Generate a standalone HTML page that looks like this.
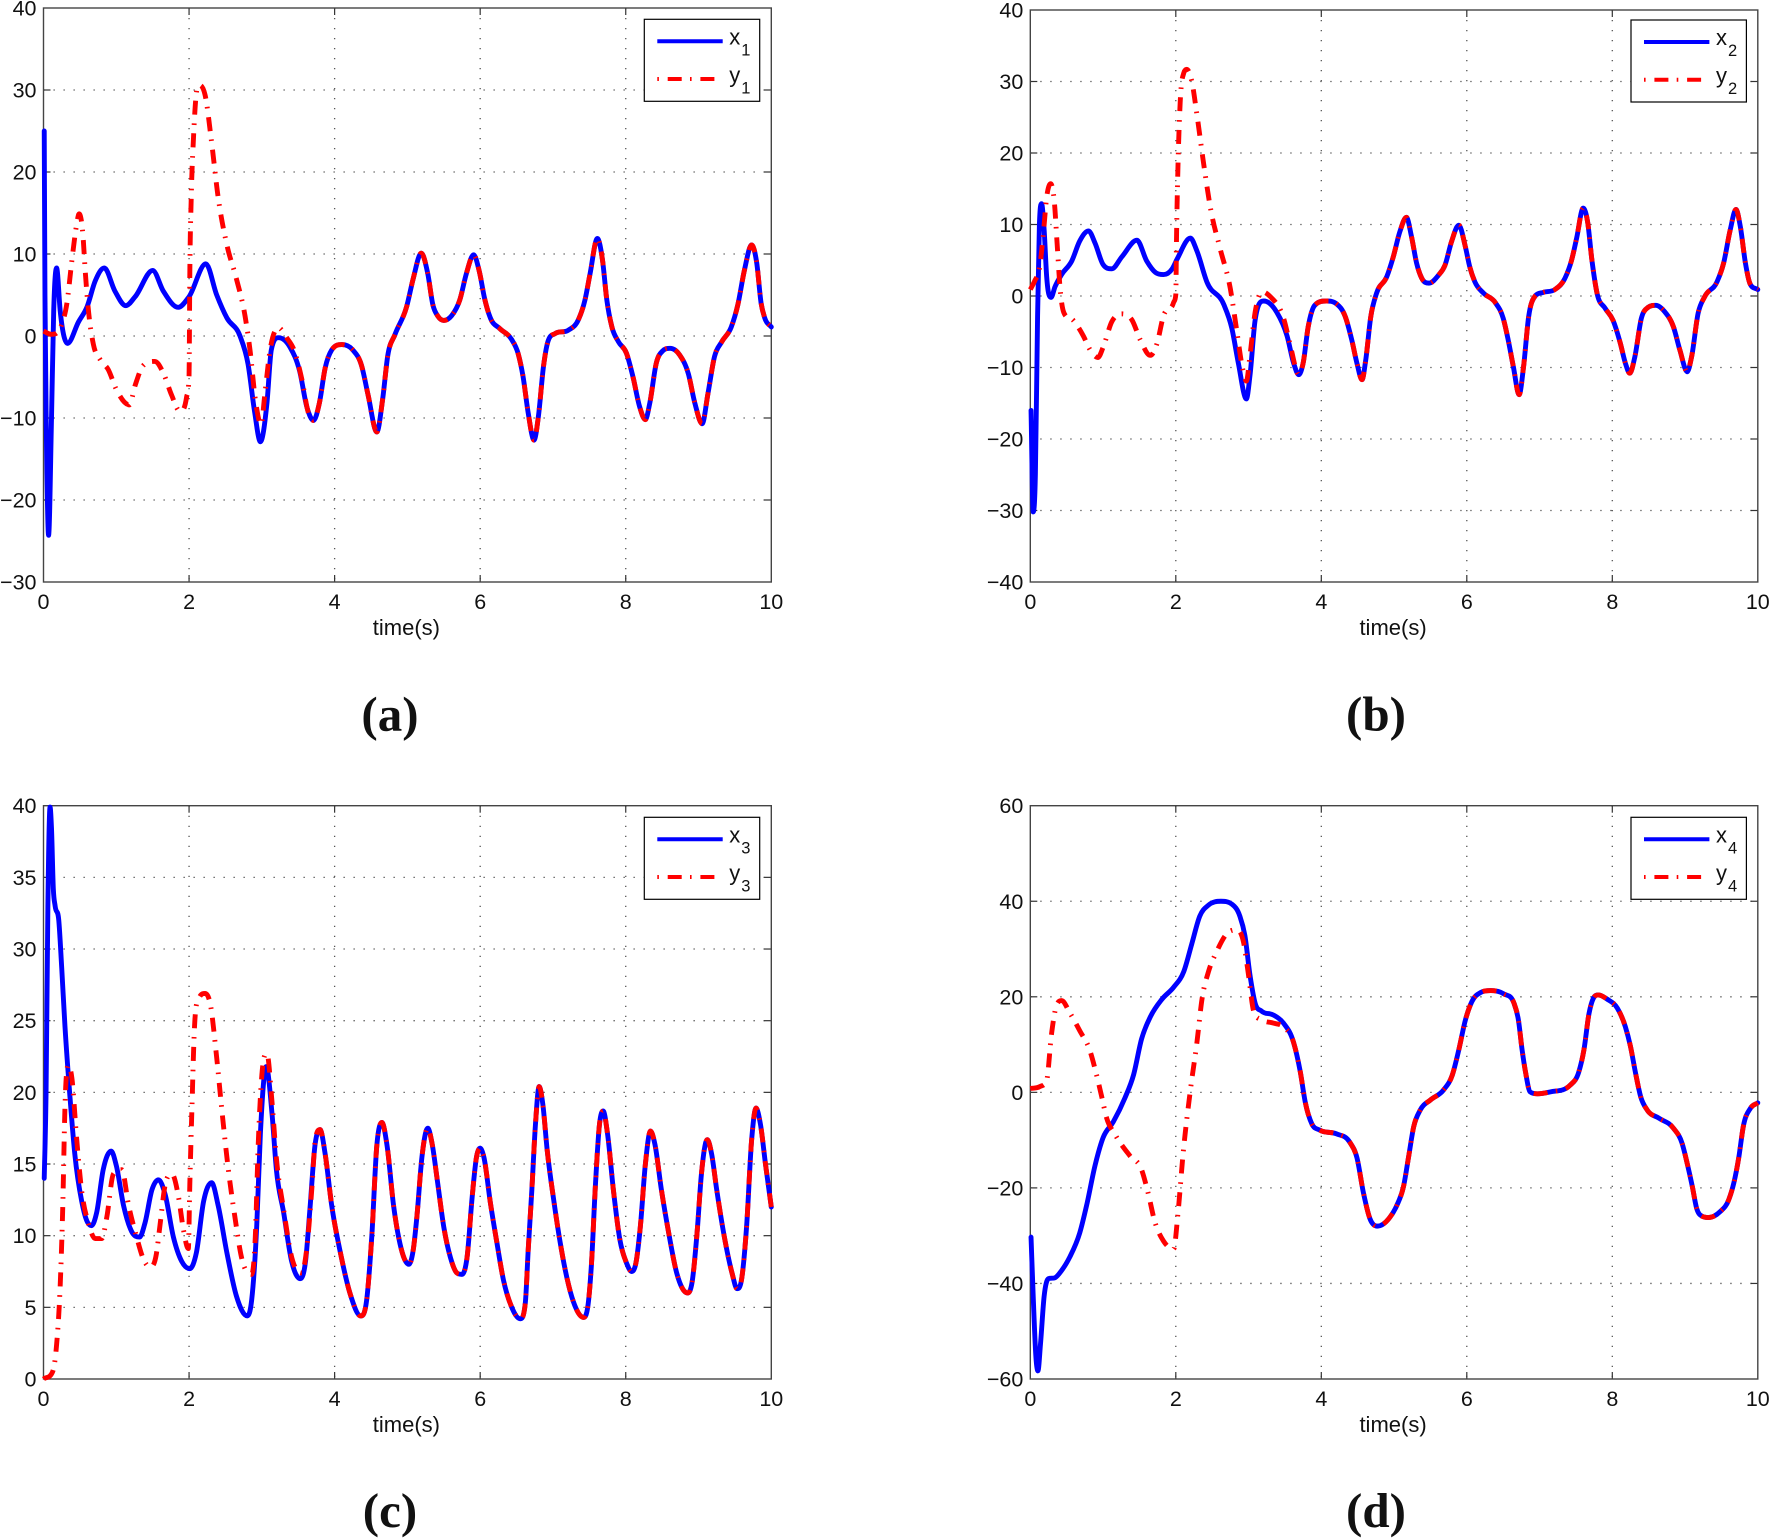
<!DOCTYPE html>
<html lang="en">
<head>
<meta charset="utf-8">
<title>Synchronization of x and y states</title>
<style>
html,body{margin:0;padding:0;background:#fff;}
svg{display:block;}
text{font-family:"Liberation Sans",Arial,sans-serif;fill:#111;}
.cap{font-family:"Liberation Serif","Times New Roman",serif;font-weight:bold;font-size:49px;text-anchor:middle;}
.lg{font-size:22px;}
.sub{font-size:16.5px;}
</style>
</head>
<body>
<svg id="fig" xmlns="http://www.w3.org/2000/svg" width="1769" height="1538" viewBox="0 0 1769 1538">
<g id="plots"></g>

<g transform="translate(644.3,19.3)">
<rect x="0" y="0" width="115.4" height="82" fill="#fff" stroke="#000" stroke-width="1.2"/>
<line x1="13" x2="78.4" y1="22" y2="22" stroke="#0000ff" stroke-width="4"/>
<line x1="13" x2="78.4" y1="59.7" y2="59.7" stroke="#ff0000" stroke-width="4" stroke-dasharray="1.6 8.8 14 8.3"/>
<text class="lg" x="85" y="25">x</text><text class="sub" x="97" y="36">1</text>
<text class="lg" x="85" y="63">y</text><text class="sub" x="97" y="74">1</text>
</g>
<g transform="translate(1631,20)">
<rect x="0" y="0" width="115.4" height="82" fill="#fff" stroke="#000" stroke-width="1.2"/>
<line x1="13" x2="78.4" y1="22" y2="22" stroke="#0000ff" stroke-width="4"/>
<line x1="13" x2="78.4" y1="59.7" y2="59.7" stroke="#ff0000" stroke-width="4" stroke-dasharray="1.6 8.8 14 8.3"/>
<text class="lg" x="85" y="25">x</text><text class="sub" x="97" y="36">2</text>
<text class="lg" x="85" y="63">y</text><text class="sub" x="97" y="74">2</text>
</g>
<g transform="translate(644.3,817.3)">
<rect x="0" y="0" width="115.4" height="82" fill="#fff" stroke="#000" stroke-width="1.2"/>
<line x1="13" x2="78.4" y1="22" y2="22" stroke="#0000ff" stroke-width="4"/>
<line x1="13" x2="78.4" y1="59.7" y2="59.7" stroke="#ff0000" stroke-width="4" stroke-dasharray="1.6 8.8 14 8.3"/>
<text class="lg" x="85" y="25">x</text><text class="sub" x="97" y="36">3</text>
<text class="lg" x="85" y="63">y</text><text class="sub" x="97" y="74">3</text>
</g>
<g transform="translate(1631,817.3)">
<rect x="0" y="0" width="115.4" height="82" fill="#fff" stroke="#000" stroke-width="1.2"/>
<line x1="13" x2="78.4" y1="22" y2="22" stroke="#0000ff" stroke-width="4"/>
<line x1="13" x2="78.4" y1="59.7" y2="59.7" stroke="#ff0000" stroke-width="4" stroke-dasharray="1.6 8.8 14 8.3"/>
<text class="lg" x="85" y="25">x</text><text class="sub" x="97" y="36">4</text>
<text class="lg" x="85" y="63">y</text><text class="sub" x="97" y="74">4</text>
</g>

<text class="cap" x="390" y="730.5">(a)</text>
<text class="cap" x="1376" y="730.5">(b)</text>
<text class="cap" x="390" y="1527">(c)</text>
<text class="cap" x="1376" y="1527">(d)</text>
</svg>

<script>
const xTicks = [0, 2, 4, 6, 8, 10];
const yTicksA = [40, 30, 20, 10, 0, -10, -20, -30];
const yTicksB = [40, 30, 20, 10, 0, -10, -20, -30, -40];
const yTicksC = [40, 35, 30, 25, 20, 15, 10, 5, 0];
const yTicksD = [60, 40, 20, 0, -20, -40, -60];
const xAxisTitle = 'time(s)';

/* Panel a */
const x1EarlyTime = [0.01,0.02,0.04,0.07,0.11,0.14,0.18,0.23,0.33,0.48,0.6,0.71,0.835,0.98,1.13,1.26,1.5,1.645,1.85,2.0,2.23,2.38,2.52,2.7,2.81,2.9,2.98,3.07,3.13,3.23,3.39,3.52,3.62];
const x1EarlyValues = [25,5,-12,-24.3,-10,3,8.3,3,-0.9,1.7,3.6,6.7,8.3,5.5,3.7,4.8,8,5.5,3.5,4.8,8.8,5,2.2,0,-3.4,-9.2,-12.9,-8.2,-1.7,-0.2,-1.4,-4.3,-8.7];
const y1EarlyTime = [0,0.11,0.25,0.32,0.39,0.45,0.49,0.54,0.575,0.62,0.685,0.78,0.89,1.0,1.18,1.26,1.37,1.53,1.65,1.76,1.875,1.965,2.0,2.01,2.03,2.06,2.1,2.14,2.22,2.31,2.4,2.52,2.65,2.77,2.84,2.91,2.99,3.04,3.11,3.23,3.34,3.45,3.55,3.64];
const y1EarlyValues = [0.6,0.2,1.4,3.9,9.2,13.3,14.9,12.5,7.7,2.9,-1,-2.9,-4.1,-6.5,-8.4,-6,-3.6,-3.1,-4.6,-7.2,-9.2,-7.5,-4.8,7.2,16.9,24,29.6,30.6,29.4,23.6,16.9,11.1,7,2.4,-1.9,-7.7,-10.8,-7.2,-1.9,1,-0.2,-1.9,-5.3,-9.4];
const shared1Time = [3.71,3.79,3.87,3.96,4.1,4.25,4.37,4.46,4.58,4.66,4.73,4.83,4.99,5.08,5.19,5.28,5.35,5.42,5.5,5.61,5.72,5.81,5.91,5.99,6.06,6.14,6.27,6.43,6.52,6.59,6.66,6.74,6.8,6.87,6.93,7.03,7.21,7.35,7.44,7.51,7.61,7.68,7.74,7.81,7.9,8.01,8.1,8.19,8.27,8.33,8.42,8.51,8.61,8.74,8.86,8.95,9.05,9.13,9.22,9.32,9.45,9.54,9.63,9.73,9.8,9.86,9.91,10];
const shared1Values = [-10.3,-8.2,-3.9,-1.7,-1.05,-1.7,-3.6,-7.2,-11.7,-7.7,-2.4,0.2,3.6,7,10.1,7.6,3.8,2.4,1.9,2.5,4.4,7.6,9.9,7.8,4.6,2.2,0.9,-0.4,-2.1,-5,-9.4,-12.7,-9.8,-3.7,-0.7,0.3,0.7,2,4.4,7.6,11.9,9.3,4.4,1.1,-0.7,-2.1,-5,-8.6,-10.2,-8.2,-3.3,-1.8,-1.5,-2.3,-4.6,-8.2,-10.7,-7,-2.5,-0.7,1.1,3.8,8,11.1,8.9,4,2.2,1.1];

/* Panel b */
const x2EarlyTime = [0.01,0.04,0.07,0.1,0.125,0.155,0.19,0.225,0.285,0.34,0.43,0.57,0.68,0.8,0.89,1.0,1.12,1.26,1.465,1.6,1.72,1.83,1.95,2.02,2.2,2.29,2.43,2.66,2.77,2.86,2.97,3.02,3.09,3.21,3.39,3.53,3.62];
const x2EarlyValues = [-16,-30.2,-24.9,-2.8,9.9,12.9,9.3,2.7,-0.2,1.3,3,4.9,7.7,9.1,7.4,4.4,3.8,5.5,7.8,4.9,3.3,3,3.8,5.2,8.1,6.3,1.9,-1.2,-4.5,-9.4,-14.4,-11.1,-3.4,-0.7,-2.3,-5.6,-9.4];
const y2EarlyTime = [0,0.065,0.125,0.18,0.225,0.28,0.33,0.37,0.41,0.46,0.59,0.73,0.82,0.93,1.0,1.12,1.26,1.4,1.51,1.65,1.74,1.83,1.97,2.0,2.01,2.03,2.06,2.11,2.15,2.22,2.29,2.38,2.48,2.61,2.75,2.84,2.91,2.97,3.02,3.09,3.19,3.3,3.49,3.58];
const y2EarlyValues = [0.9,2.2,3.8,8.8,13.8,15.7,13.2,7.1,1,-2.3,-3.4,-5.6,-7.5,-8.6,-7.2,-3.6,-2.5,-3.4,-6.1,-8.3,-6.7,-2.8,-0.9,0.2,8.2,18.2,27,31.2,31.7,30,25.4,18.7,12.1,6.6,1,-5,-9.7,-11.9,-8.3,-2.3,0.6,-0.1,-3.4,-7.2];
const shared2Time = [3.69,3.75,3.82,3.91,4.07,4.21,4.33,4.42,4.49,4.56,4.61,4.68,4.76,4.9,4.99,5.08,5.17,5.24,5.31,5.38,5.48,5.61,5.7,5.79,5.89,5.98,6.04,6.11,6.23,6.39,6.5,6.57,6.64,6.72,6.78,6.85,6.94,7.05,7.21,7.35,7.44,7.51,7.6,7.66,7.72,7.79,7.9,8.01,8.11,8.18,8.24,8.31,8.4,8.49,8.6,8.72,8.84,8.93,9.03,9.09,9.18,9.27,9.44,9.53,9.62,9.7,9.76,9.83,9.89,10];
const shared2Values = [-11,-9.4,-4.3,-1.3,-0.7,-1.1,-2.9,-6.2,-9.4,-11.7,-9,-2.9,0.4,2.7,5.5,9,11,8.3,4.6,2.5,1.8,2.9,4.3,7.6,9.9,6.9,4.1,2,0.4,-0.9,-3.1,-6.2,-9.9,-13.8,-9.9,-2.9,0,0.5,0.9,2.5,5,8.1,12.3,10.4,5,0.4,-1.7,-3.4,-6.6,-9.4,-10.8,-8.5,-3.1,-1.6,-1.3,-2.2,-4.3,-7.6,-10.6,-8.5,-2.4,-0.1,2,4.6,9.2,12.1,9.7,4.6,1.8,0.9];

/* Panel c */
const x3EarlyTime = [0.01,0.035,0.06,0.09,0.11,0.135,0.16,0.21,0.25,0.295,0.365,0.43,0.525,0.59,0.66,0.73,0.82,0.93,1.0,1.1,1.21,1.32,1.395,1.49,1.58,1.67,1.785,1.9,2.01,2.1,2.2,2.31,2.4,2.52,2.65,2.8,2.86,2.93,2.98,3.06,3.14,3.2,3.3,3.41,3.53,3.6,3.66,3.73];
const x3EarlyValues = [14,19.9,32.9,39.9,38.4,34.2,33,32,28.7,24.6,19.6,15.7,12.4,11.1,10.7,11.6,14.6,15.9,14.9,12.1,10.3,9.9,10.9,13.2,13.9,12.9,9.9,8.2,7.7,8.8,12.4,13.7,12.1,8.8,5.8,4.4,5.5,10.7,17.1,21.8,18.5,14.6,11.6,8.2,7,8.2,11.8,16.3];
const y3EarlyTime = [0,0.125,0.18,0.23,0.265,0.295,0.34,0.39,0.455,0.525,0.615,0.71,0.8,0.87,0.96,1.075,1.17,1.28,1.37,1.465,1.55,1.6,1.67,1.765,1.855,1.92,1.99,2.01,2.04,2.07,2.13,2.22,2.29,2.38,2.45,2.54,2.63,2.72,2.86,2.91,2.95,3.0,3.07,3.14,3.2,3.3,3.41,3.55,3.61,3.69,3.73];
const y3EarlyValues = [0,0.5,2.4,6.6,12.1,19,21.9,21,16.8,13.1,10.9,9.8,9.8,11.3,14.3,14.6,12.1,9.9,8.4,7.8,8.7,10.7,13.5,14.3,12.7,10.5,9.1,13.5,19,24,26.5,26.9,26.2,22.4,18.8,14.6,11.3,8.5,7.3,9.9,16.3,21.2,22.7,19.3,15.4,11.8,8.5,7.4,8.8,13.5,16.5];
const shared3Time = [3.8,3.87,3.96,4.08,4.21,4.36,4.44,4.51,4.58,4.65,4.72,4.81,4.9,5.02,5.08,5.13,5.2,5.28,5.34,5.41,5.5,5.59,5.68,5.75,5.82,5.89,5.95,6.0,6.05,6.14,6.23,6.32,6.43,6.55,6.62,6.66,6.71,6.76,6.81,6.86,6.92,7.01,7.1,7.19,7.28,7.42,7.49,7.53,7.58,7.64,7.69,7.75,7.83,7.92,8.01,8.08,8.14,8.2,8.27,8.34,8.4,8.49,8.59,8.7,8.85,8.91,8.98,9.04,9.12,9.18,9.25,9.37,9.46,9.53,9.59,9.66,9.73,9.79,9.85,9.92,10];
const shared3Values = [17.4,15.7,12.1,8.8,6,4.4,5.5,9.9,16.3,17.9,16.3,12.1,9.4,8,9,11.3,15.5,17.5,16.4,13.9,10.6,8.5,7.4,7.3,8.5,12.7,15.5,16.1,15.5,12.3,9.5,6.9,5.05,4.2,5.3,9,13.2,17.8,20.4,19.2,16,12.5,9.5,7.1,5.4,4.3,5.5,8.1,13.2,17.8,18.7,17.1,13.2,9.7,8.1,7.5,8.1,10.6,15,17.3,16.4,13.2,10.2,7.4,6,6.7,10.2,14.3,16.7,15.7,13.2,9.5,7.4,6.3,6.9,10.6,16.7,18.9,17.8,15,12];

/* Panel d */
const x4EarlyTime = [0.01,0.04,0.08,0.105,0.14,0.19,0.25,0.34,0.43,0.545,0.68,0.775,0.89,1.0,1.14,1.3,1.42,1.53,1.65,1.81,1.97,2.11,2.22,2.33,2.45,2.62,2.77,2.88,2.95,3.02,3.09,3.18,3.34,3.48];
const x4EarlyValues = [-30.3,-42.7,-56,-58.3,-52.7,-42.7,-39,-38.8,-37.3,-34.4,-29.4,-23.6,-15.3,-9.5,-6.2,-1.2,3.7,11.2,15.8,19.5,22,25.3,31.1,36.9,39.2,40,39.4,36.9,32.8,24.5,18.7,17,16.2,14.5];
const y4EarlyTime = [0,0.13,0.225,0.29,0.34,0.43,0.545,0.68,0.82,0.91,0.98,1.05,1.16,1.37,1.53,1.62,1.71,1.83,1.97,2.03,2.1,2.2,2.29,2.36,2.45,2.56,2.7,2.84,2.93,3.0,3.07,3.18,3.34,3.48];
const y4EarlyValues = [0.8,1.2,2.5,12,17,19.2,16.6,12.9,8.7,3.7,-0.8,-5.4,-8.7,-13.3,-16.2,-21.1,-27,-31.1,-32.8,-25.3,-12.9,0.4,10.4,19.5,25.3,29.4,33.2,34,31.5,24.5,17,15.2,14.5,13.7];
const shared4Time = [3.62,3.71,3.78,3.87,3.98,4.21,4.39,4.49,4.58,4.67,4.77,4.93,5.04,5.13,5.2,5.27,5.36,5.5,5.68,5.8,5.89,5.98,6.07,6.19,6.33,6.51,6.65,6.71,6.76,6.81,6.87,6.97,7.15,7.42,7.54,7.61,7.68,7.74,7.81,7.93,8.07,8.18,8.25,8.32,8.39,8.48,8.64,8.84,8.96,9.03,9.1,9.16,9.23,9.32,9.48,9.6,9.67,9.74,9.8,9.9,10];
const shared4Values = [10.4,4.4,-2.1,-6.6,-7.9,-8.7,-10.4,-13.7,-21.1,-26.5,-28,-26.4,-23.6,-19.7,-13.5,-7.2,-3.7,-1.6,0.5,3.6,8.9,15.1,19,20.9,21.3,20.6,18.6,15.1,8.9,4,0.1,-0.3,0.1,1.5,4.3,8.9,16.5,19.7,20.4,19.5,17.6,13.7,9.6,4,-0.9,-3.7,-5.4,-7.5,-10.7,-14.9,-19.7,-24.3,-25.9,-26.2,-25,-22.5,-19,-13.5,-7.2,-3.3,-2.2];

const SVGNS = 'http://www.w3.org/2000/svg';
const plotsRoot = document.getElementById('plots');

function mk(tag, attrs, parent) {
  const el = document.createElementNS(SVGNS, tag);
  for (const k in attrs) el.setAttribute(k, attrs[k]);
  parent.appendChild(el);
  return el;
}

/* smooth cubic through the points, in pixel space: parabolic tangents, limited to avoid overshoot */
function smoothPath(px, py) {
  const n = px.length;
  const h = [], d = [], m = new Array(n).fill(0);
  for (let i = 0; i < n - 1; i++) {
    h[i] = px[i + 1] - px[i];
    d[i] = (py[i + 1] - py[i]) / h[i];
  }
  m[0] = d[0];
  m[n - 1] = d[n - 2];
  for (let i = 1; i < n - 1; i++) {
    if (d[i - 1] * d[i] > 0) {
      const lim = 3 * Math.min(Math.abs(d[i - 1]), Math.abs(d[i]));
      const para = (h[i - 1] * d[i] + h[i] * d[i - 1]) / (h[i - 1] + h[i]);
      m[i] = Math.sign(para) * Math.min(Math.abs(para), lim);
    }
  }
  let s = 'M' + px[0].toFixed(2) + ' ' + py[0].toFixed(2);
  for (let i = 0; i < n - 1; i++) {
    const c = h[i] / 3;
    s += 'C' + (px[i] + c).toFixed(2) + ' ' + (py[i] + m[i] * c).toFixed(2) + ' ' +
      (px[i + 1] - c).toFixed(2) + ' ' + (py[i + 1] - m[i + 1] * c).toFixed(2) + ' ' +
      px[i + 1].toFixed(2) + ' ' + py[i + 1].toFixed(2);
  }
  return s;
}

function drawPanel(p) {
  const xScale = t => p.left + (t / 10) * (p.right - p.left);
  const yScale = v => p.top + ((p.yMax - v) / (p.yMax - p.yMin)) * (p.bottom - p.top);

  const g = mk('g', {}, plotsRoot);
  
  

  /* horizontal grid, ticks, labels */
  p.yTicks.forEach(v => {
    const y = yScale(v);
    if (v !== p.yMax && v !== p.yMin) {
      const gl = mk('line', {x1: p.left, x2: p.right, y1: y, y2: y, stroke: '#555', 'stroke-width': 1.3, 'stroke-dasharray': '1.3 8.7'}, g);
      
      
      const tl = mk('line', {x1: p.left, x2: p.left + 7, y1: y, y2: y, stroke: '#333', 'stroke-width': 1.2}, g);
      
      
      const tr = mk('line', {x1: p.right - 7, x2: p.right, y1: y, y2: y, stroke: '#333', 'stroke-width': 1.2}, g);
      
      
    }
    const lab = mk('text', {x: p.left - 7, y: y + 7.5, 'text-anchor': 'end', 'font-size': 21.5}, g);
    
    
    lab.textContent = String(v).replace('-', '\u2212');
  });

  /* vertical grid, ticks, labels */
  xTicks.forEach(t => {
    const x = xScale(t);
    if (t !== 0 && t !== 10) {
      const gl = mk('line', {x1: x, x2: x, y1: p.top, y2: p.bottom, stroke: '#555', 'stroke-width': 1.3, 'stroke-dasharray': '1.3 8.7'}, g);
      
      
      const tb = mk('line', {x1: x, x2: x, y1: p.bottom - 7, y2: p.bottom, stroke: '#333', 'stroke-width': 1.2}, g);
      
      
      const tt = mk('line', {x1: x, x2: x, y1: p.top, y2: p.top + 7, stroke: '#333', 'stroke-width': 1.2}, g);
      
      
    }
    const lab = mk('text', {x: x, y: p.bottom + 27, 'text-anchor': 'middle', 'font-size': 21.5}, g);
    
    
    lab.textContent = String(t);
  });

  /* axes box */
  const box = mk('rect', {x: p.left, y: p.top, width: p.right - p.left, height: p.bottom - p.top, fill: 'none', stroke: '#444', 'stroke-width': 1.4}, g);
  
  

  /* series */
  const blueT = p.xEarlyT.concat(p.sharedT);
  const blueV = p.xEarlyV.concat(p.sharedV);
  const redT = p.yEarlyT.concat(p.sharedT);
  const redV = p.yEarlyV.concat(p.sharedV);

  const blue = mk('path', {d: smoothPath(blueT.map(xScale), blueV.map(yScale)), fill: 'none', stroke: '#0000ff', 'stroke-width': 4.9, 'stroke-linejoin': 'round', 'stroke-linecap': 'round'}, g);
  
  

  const red = mk('path', {d: smoothPath(redT.map(xScale), redV.map(yScale)), fill: 'none', stroke: '#ff0000', 'stroke-width': 4.9, 'stroke-linejoin': 'round', 'stroke-dasharray': '14 8.3 1.6 8.8'}, g);
  
  

  /* x title */
  const title = mk('text', {x: (p.left + p.right) / 2 - 1, y: p.bottom + 53, 'text-anchor': 'middle', 'font-size': 22}, g);
  
  
  title.textContent = xAxisTitle;
}

drawPanel({id: 'a', index: 1, left: 43.5, right: 771.3, top: 8, bottom: 582, yMax: 40, yMin: -30, yTicks: yTicksA,
  xEarlyT: x1EarlyTime, xEarlyV: x1EarlyValues, yEarlyT: y1EarlyTime, yEarlyV: y1EarlyValues, sharedT: shared1Time, sharedV: shared1Values});
drawPanel({id: 'b', index: 2, left: 1030.3, right: 1757.8, top: 10, bottom: 582, yMax: 40, yMin: -40, yTicks: yTicksB,
  xEarlyT: x2EarlyTime, xEarlyV: x2EarlyValues, yEarlyT: y2EarlyTime, yEarlyV: y2EarlyValues, sharedT: shared2Time, sharedV: shared2Values});
drawPanel({id: 'c', index: 3, left: 43.5, right: 771.3, top: 805.7, bottom: 1379, yMax: 40, yMin: 0, yTicks: yTicksC,
  xEarlyT: x3EarlyTime, xEarlyV: x3EarlyValues, yEarlyT: y3EarlyTime, yEarlyV: y3EarlyValues, sharedT: shared3Time, sharedV: shared3Values});
drawPanel({id: 'd', index: 4, left: 1030.3, right: 1757.8, top: 805.7, bottom: 1379, yMax: 60, yMin: -60, yTicks: yTicksD,
  xEarlyT: x4EarlyTime, xEarlyV: x4EarlyValues, yEarlyT: y4EarlyTime, yEarlyV: y4EarlyValues, sharedT: shared4Time, sharedV: shared4Values});
</script>
</body>
</html>
